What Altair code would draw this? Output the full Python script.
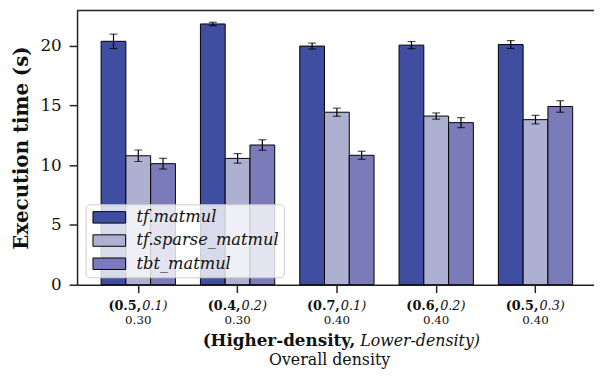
import altair as alt
import pandas as pd

# ---- data ----
high = ["0.5", "0.4", "0.7", "0.6", "0.5"]
low = ["0.1", "0.2", "0.1", "0.2", "0.3"]
overall = ["0.30", "0.30", "0.40", "0.40", "0.40"]
series = ["tf.matmul", "tf.sparse_matmul", "tbt_matmul"]
colors = ["#3f4ea1", "#adb0d1", "#7b7bba"]

mean_tf = [20.35, 21.8, 19.95, 20.03, 20.08]
err_tf = [0.6, 0.14, 0.25, 0.3, 0.33]
mean_sparse = [10.78, 10.56, 14.42, 14.1, 13.8]
err_sparse = [0.48, 0.4, 0.34, 0.26, 0.36]
mean_tbt = [10.12, 11.68, 10.82, 13.55, 14.9]
err_tbt = [0.45, 0.44, 0.34, 0.42, 0.48]

keys = [f"({h},{l})" for h, l in zip(high, low)]

rows = []
for s, means, errs in zip(series, [mean_tf, mean_sparse, mean_tbt], [err_tf, err_sparse, err_tbt]):
    for k, m, e in zip(keys, means, errs):
        rows.append({"key": k, "series": s, "mean": m, "lo": m - e, "hi": m + e})
df = pd.DataFrame(rows)

lab = pd.DataFrame({
    "key": keys,
    "bold": [f"({h}," for h in high],
    "ital": [f"{l})" for l in low],
    "overall": overall,
})

W, H = 524, 278
FONT = "DejaVu Serif"

xscale = alt.Scale(paddingInner=0.252, paddingOuter=0.2286, align=0.53)
xenc = alt.X("key:N", sort=keys, scale=xscale,
             axis=alt.Axis(labels=False, title=None, tickSize=8, tickWidth=1.5,
                           tickColor="#222", domainColor="#222", domainWidth=1.5))
xoff = alt.XOffset("series:N", sort=series)

base = alt.Chart(df)

bars = base.mark_bar(stroke="black", strokeWidth=1).encode(
    x=xenc,
    xOffset=xoff,
    y=alt.Y("mean:Q", scale=alt.Scale(domain=[0, 22.93], nice=False, zero=True),
            axis=alt.Axis(values=[0, 5, 10, 15, 20], grid=False, tickSize=8, tickWidth=1.5,
                          tickColor="#222", domainColor="#222", domainWidth=1.5,
                          labelFont=FONT, labelFontSize=17, labelColor="#111", labelPadding=8,
                          title="Execution time (s)", titleFont=FONT, titleFontSize=20,
                          titleFontWeight="bold", titleColor="#111", titlePadding=9)),
    color=alt.Color("series:N", sort=series, scale=alt.Scale(domain=series, range=colors),
                    legend=alt.Legend(orient="none", legendX=8.7, legendY=196.5, title=None,
                                      symbolType="M-1,-1H4.7V1H-1Z", symbolSize=135,
                                      symbolStrokeColor="black", symbolStrokeWidth=1,
                                      symbolOpacity=1,
                                      labelFont=FONT, labelFontStyle="italic", labelFontSize=16.5,
                                      labelColor="#111", labelOffset=30,
                                      fillColor="rgba(255,255,255,0.8)", strokeColor="#cccccc",
                                      cornerRadius=4, padding=5, rowPadding=6.5)),
)

err_rule = base.mark_rule(color="black", strokeWidth=1.2).encode(
    x=alt.X("key:N", sort=keys), xOffset=xoff, y="lo:Q", y2="hi:Q")
cap_lo = base.mark_tick(color="black", size=8, thickness=1.2, orient="horizontal").encode(
    x=alt.X("key:N", sort=keys), xOffset=xoff, y="lo:Q")
cap_hi = base.mark_tick(color="black", size=8, thickness=1.2, orient="horizontal").encode(
    x=alt.X("key:N", sort=keys), xOffset=xoff, y="hi:Q")

lbase = alt.Chart(lab)
lab_bold = lbase.mark_text(font=FONT, fontSize=13, fontWeight="bold", align="right",
                           baseline="middle", dx=3, color="#111").encode(
    x=alt.X("key:N", sort=keys), y=alt.value(300), text="bold:N")
lab_ital = lbase.mark_text(font=FONT, fontSize=13, fontStyle="italic", align="left",
                           baseline="middle", dx=4, color="#111").encode(
    x=alt.X("key:N", sort=keys), y=alt.value(300), text="ital:N")
lab_over = lbase.mark_text(font=FONT, fontSize=12, align="center",
                           baseline="middle", color="#111").encode(
    x=alt.X("key:N", sort=keys), y=alt.value(314), text="overall:N")

one = alt.Chart(pd.DataFrame({"t": [0]}))
title_b = one.mark_text(font=FONT, fontSize=17, fontWeight="bold", align="right",
                        baseline="middle", color="#111", text="(Higher-density,").encode(
    x=alt.value(282), y=alt.value(335))
title_i = one.mark_text(font=FONT, fontSize=16, fontStyle="italic", align="left",
                        baseline="middle", color="#111", text="Lower-density)").encode(
    x=alt.value(287), y=alt.value(335))
title_2 = one.mark_text(font=FONT, fontSize=16, align="center",
                        baseline="middle", color="#111", text="Overall density").encode(
    x=alt.value(256), y=alt.value(354))
top_rule = one.mark_rule(color="#222", strokeWidth=1.5).encode(
    x=alt.value(0), x2=alt.value(W), y=alt.value(0))

chart = alt.layer(bars, err_rule, cap_lo, cap_hi, lab_bold, lab_ital, lab_over,
                  title_b, title_i, title_2, top_rule).properties(
    width=W, height=H,
    autosize=alt.AutoSizeParams(type="none"),
    padding={"left": 70, "top": 0, "right": 0, "bottom": 85},
).configure_view(stroke=None)

chart.save("out.html", embed_options={"renderer": "svg", "actions": False})
